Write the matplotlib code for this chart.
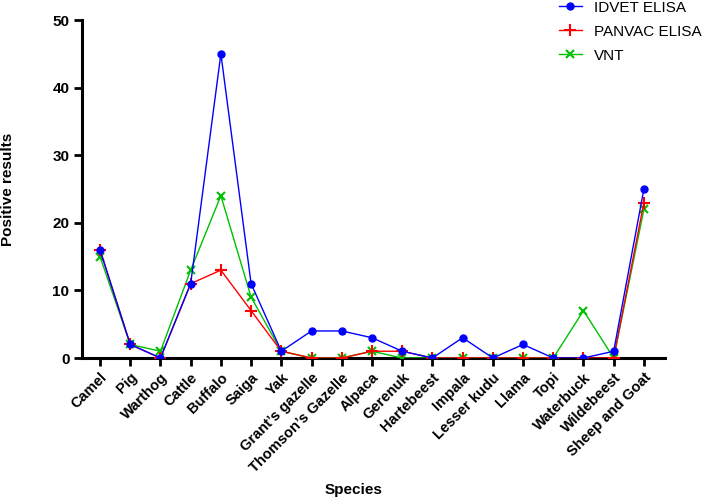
import matplotlib
matplotlib.use("Agg")
import matplotlib.pyplot as plt

plt.rcParams['font.family'] = ['Liberation Sans', 'DejaVu Sans']

species = ["Camel", "Pig", "Warthog", "Cattle", "Buffalo", "Saiga", "Yak",
           "Grant\u2019s gazelle", "Thomson\u2019s Gazelle", "Alpaca", "Gerenuk",
           "Hartebeest", "Impala", "Lesser kudu", "Llama", "Topi", "Waterbuck",
           "Wildebeest", "Sheep and Goat"]
idvet = [16, 2, 0, 11, 45, 11, 1, 4, 4, 3, 1, 0, 3, 0, 2, 0, 0, 1, 25]
panvac = [16, 2, 0, 11, 13, 7, 1, 0, 0, 1, 1, 0, 0, 0, 0, 0, 0, 0, 23]
vnt = [15, 2, 1, 13, 24, 9, 1, 0, 0, 1, 0, 0, 0, 0, 0, 0, 7, 0, 22]

fig = plt.figure(figsize=(7.06, 5.0), dpi=100)
ax = fig.add_axes([0.116, 0.284, 0.826, 0.676])

x = list(range(len(species)))
ax.plot(x, vnt, color='#00c000', marker='x', markersize=6, mew=1.5, lw=1, label='VNT', zorder=3)
ax.plot(x, panvac, color='#ff0000', marker='+', markersize=9, mew=1.5, lw=1, label='PANVAC ELISA', zorder=4)
ax.plot(x, idvet, color='#0000ff', marker='o', markersize=5, lw=1, label='IDVET ELISA', zorder=5)

ax.set_xlim(-0.6, 18.7)
ax.set_ylim(0, 50)
ax.set_yticks([0, 10, 20, 30, 40, 50])
ax.set_xticks(x)
ax.set_xticklabels(species, rotation=45, ha='right', rotation_mode='anchor',
                   fontweight='bold', fontsize=10.5)
for lab in ax.get_yticklabels():
    lab.set_fontweight('bold')
    lab.set_fontsize(11)

for side in ['top', 'right']:
    ax.spines[side].set_visible(False)
for side in ['left', 'bottom']:
    ax.spines[side].set_linewidth(2.2)
ax.tick_params(axis='both', width=2, length=6, pad=3)

ax.set_ylabel('Positive results', fontweight='bold', fontsize=11, va='center')
ax.yaxis.set_label_coords(-0.127, 0.5)
ax.set_xlabel('Species', fontweight='bold', fontsize=11, va='center')
ax.xaxis.set_label_coords(0.466, -0.39)

handles, labels = ax.get_legend_handles_labels()
order = [2, 1, 0]
ax.legend([handles[i] for i in order], [labels[i] for i in order],
          loc='upper left', bbox_to_anchor=(0.772, 1.026), bbox_transform=fig.transFigure,
          frameon=False, fontsize=11, handlelength=1.5, handletextpad=0.8,
          labelspacing=0.65)

fig.savefig('out.png', dpi=100)
